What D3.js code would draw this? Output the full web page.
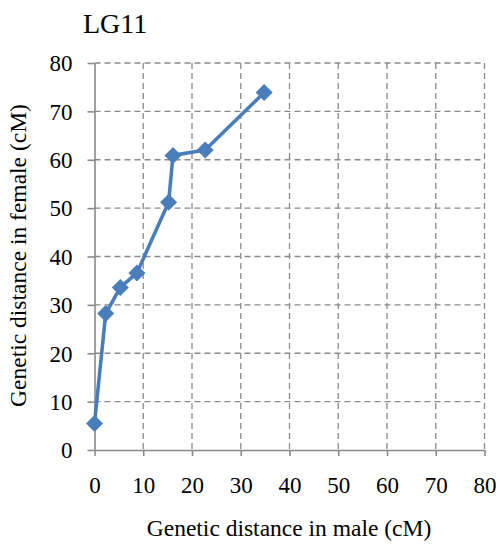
<!DOCTYPE html>
<html>
<head>
<meta charset="utf-8">
<script src="https://cdn.jsdelivr.net/npm/d3@7"></script>
<style>
  html, body { margin: 0; padding: 0; background: #fff; }
  svg { display: block; }
  text { font-family: "Liberation Serif", "Times New Roman", "DejaVu Serif", serif; fill: #000; }
</style>
</head>
<body>
<svg id="chart" width="500" height="545"></svg>
<script>
// Linkage group LG11: marker positions in male vs female maps (cM)
const chartTitle = "LG11";
const maleCM   = [0, 2.3, 5.3, 8.7, 15.2, 16.1, 22.7, 34.8];
const femaleCM = [5.5, 28.2, 33.6, 36.6, 51.2, 60.9, 62.0, 73.9];
const xTicks = [0, 10, 20, 30, 40, 50, 60, 70, 80];
const yTicks = [0, 10, 20, 30, 40, 50, 60, 70, 80];
const xTitle = "Genetic distance in male (cM)";
const yTitle = "Genetic distance in female (cM)";

const serif = "'Liberation Serif', 'Times New Roman', serif";
const svg = d3.select("#chart");
const plot = { left: 94.5, right: 484.5, top: 63, bottom: 450 };

const x = d3.scaleLinear().domain([0, 80]).range([plot.left, plot.right]);
const y = d3.scaleLinear().domain([0, 80]).range([plot.bottom, plot.top]);

const gridColor = "#8a8a8a";

// dashed grid
const grid = svg.append("g");
grid.selectAll("line.v").data(xTicks.filter(d => d > 0)).join("line")
  .attr("x1", d => x(d)).attr("x2", d => x(d))
  .attr("y1", plot.top).attr("y2", plot.bottom)
  .attr("stroke", gridColor).attr("stroke-width", 1.3)
  .attr("stroke-dasharray", "6,4");
grid.selectAll("line.h").data(yTicks.filter(d => d > 0)).join("line")
  .attr("x1", plot.left).attr("x2", plot.right)
  .attr("y1", d => y(d)).attr("y2", d => y(d))
  .attr("stroke", gridColor).attr("stroke-width", 1.3)
  .attr("stroke-dasharray", "6,4");

// axes
const xAxis = svg.append("g")
  .attr("transform", `translate(0,${plot.bottom})`)
  .call(d3.axisBottom(x).tickValues(xTicks).tickSize(6).tickPadding(21).tickSizeOuter(0));
const yAxis = svg.append("g")
  .attr("transform", `translate(${plot.left},0)`)
  .call(d3.axisLeft(y).tickValues(yTicks).tickSize(7).tickPadding(15).tickSizeOuter(0));

[xAxis, yAxis].forEach(a => {
  a.attr("font-family", serif).attr("font-size", 23);
  a.select(".domain").attr("stroke", gridColor).attr("stroke-width", 1.6);
  a.selectAll(".tick line").attr("stroke", gridColor).attr("stroke-width", 1.6);
  a.selectAll(".tick text").attr("fill", "#000");
});
yAxis.selectAll(".tick text").attr("dy", "0.34em");

// series line
const pts = maleCM.map((m, i) => [m, femaleCM[i]]);
svg.append("path")
  .datum(pts)
  .attr("fill", "none")
  .attr("stroke", "#4a7ebb")
  .attr("stroke-width", 3.6)
  .attr("stroke-linejoin", "round")
  .attr("d", d3.line().x(d => x(d[0])).y(d => y(d[1])));

// diamond markers
const r = 8.5;
svg.append("g").selectAll("path").data(pts).join("path")
  .attr("transform", d => `translate(${x(d[0])},${y(d[1])})`)
  .attr("d", `M0,${-r}L${r},0L0,${r}L${-r},0Z`)
  .attr("fill", "#4a7ebb");

// titles
svg.append("text")
  .attr("x", 83).attr("y", 33)
  .attr("font-size", 28)
  .text(chartTitle);

svg.append("text")
  .attr("x", 289).attr("y", 536)
  .attr("text-anchor", "middle")
  .attr("font-size", 23.5)
  .text(xTitle);

svg.append("text")
  .attr("transform", `translate(26,${(plot.top + plot.bottom) / 2 - 1}) rotate(-90)`)
  .attr("text-anchor", "middle")
  .attr("font-size", 23.5)
  .text(yTitle);
</script>
</body>
</html>
